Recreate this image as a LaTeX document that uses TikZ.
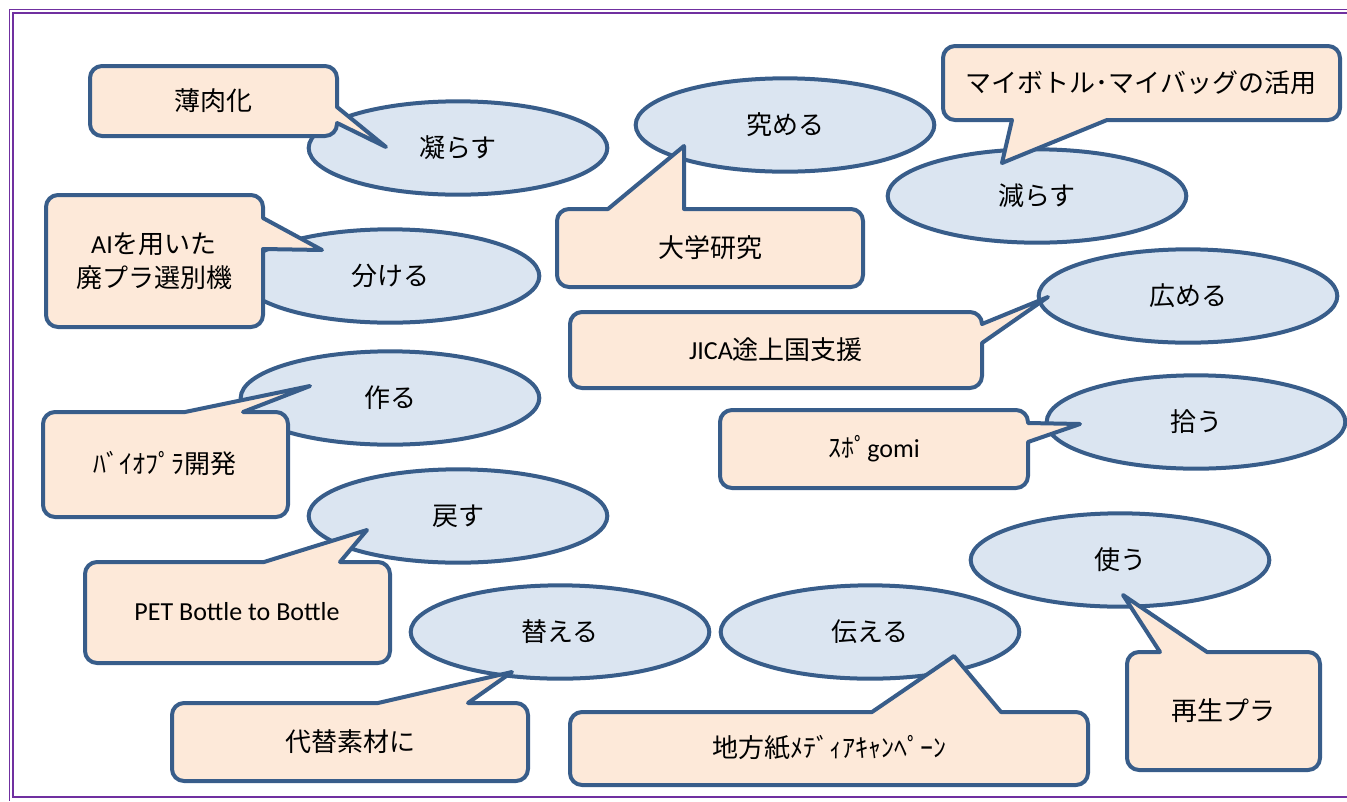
\documentclass[tikz,border=0pt]{standalone}
\usepackage{fontspec}
\setmainfont{Carlito}
\newfontfamily\jp{Noto Sans CJK JP}
\usetikzlibrary{shapes.geometric}
\definecolor{edge}{HTML}{385D8A}
\definecolor{bluefill}{HTML}{DBE5F1}
\definecolor{peach}{HTML}{FDE9D9}
\definecolor{framepurple}{HTML}{7030A0}
% tip, first base point, four corners, second base point
\newcommand{\callout}[7]{%
  \filldraw[notebox] #1 -- #2 [rounded corners=9pt] -- #3 -- #4 -- #5 -- #6 [sharp corners] -- #7 -- cycle;}
\begin{document}
\begin{tikzpicture}[x=0.75pt, y=-0.75pt,
    txt/.style={font=\fontsize{19.5pt}{25.5pt}\selectfont, align=center, inner sep=0pt},
    act/.style={ellipse, draw=edge, fill=bluefill, line width=3pt, minimum width=224pt, minimum height=70pt, inner sep=0pt, txt},
    notebox/.style={draw=edge, fill=peach, line width=3pt, line join=round},
    rim/.style={framepurple, line width=1pt}]
  \useasboundingbox[fill=white] (0,0) rectangle (1347,801);
  % double frame, open on the right
  \draw[rim] (1347,9.5) -- (9.5,9.5) -- (9.5,801);
  \draw[rim] (1347,13) -- (13,13) -- (13,797) -- (1347,797);
  % verbs
  \node[act] (korasu) at (458,148) {\jp 凝らす};
  \node[act] (kiwameru) at (785,125) {\jp 究める};
  \node[act] (herasu) at (1037,196) {\jp 減らす};
  \node[act] (wakeru) at (390,276) {\jp 分ける};
  \node[act] (hiromeru) at (1188,296) {\jp 広める};
  \node[act] (tsukuru) at (390,398) {\jp 作る};
  \node[act] (hirou) at (1196,422) {\jp 拾う};
  \node[act] (modosu) at (458,516) {\jp 戻す};
  \node[act] (kaeru) at (560,632) {\jp 替える};
  \node[act] (tsutaeru) at (870,632) {\jp 伝える};
  \node[act] (tsukau) at (1120,560) {\jp 使う};
  % callouts
  \callout{(386,147)}{(337,123)}{(337,136)}{(90,136)}{(90,66)}{(337,66)}{(337,107)}
  \node[txt] (usuniku) at (213,101) {\jp 薄肉化};
  \callout{(1002,163)}{(1107,120)}{(1340,120)}{(1340,46)}{(943,46)}{(943,120)}{(1012,120)}
  \node[txt] (mybottle) at (1141,83) {\jp マイボトル･マイバッグの活用};
  \callout{(322,250)}{(263,249)}{(263,327)}{(46,327)}{(46,195)}{(263,195)}{(263,218)}
  \node[txt] (ai) at (154,261) {AI{\jp を用いた}\\{\jp 廃プラ選別機}};
  \callout{(684,146)}{(608,209)}{(557,209)}{(557,287)}{(863,287)}{(863,209)}{(684,209)}
  \node[txt] (daigaku) at (710,248) {\jp 大学研究};
  \callout{(1048,297)}{(982,343)}{(982,388)}{(570,388)}{(570,312)}{(982,312)}{(982,324)}
  \node[txt] (jica) at (776,350) {JICA{\jp 途上国支援}};
  \callout{(310,386)}{(185,412)}{(43,412)}{(43,517)}{(288,517)}{(288,412)}{(243,412)}
  \node[txt] (bio) at (165,464) {\jp ﾊﾞｲｵﾌﾟﾗ開発};
  \callout{(1080,424)}{(1028,442)}{(1028,488)}{(720,488)}{(720,410)}{(1028,410)}{(1028,423)}
  \node[txt] (supogomi) at (874,449) {{\jp ｽﾎﾟ}gomi};
  \callout{(367,530)}{(264,562)}{(85,562)}{(85,663)}{(390,663)}{(390,562)}{(340,562)}
  \node[txt] (pet) at (237,612) {PET Bottle to Bottle};
  \callout{(512,672)}{(378,703)}{(172,703)}{(172,781)}{(528,781)}{(528,703)}{(468,703)}
  \node[txt] (daitai) at (350,742) {\jp 代替素材に};
  \callout{(954,656)}{(872,712)}{(570,712)}{(570,785)}{(1088,785)}{(1088,712)}{(1001,712)}
  \node[txt] (chiho) at (829,748) {\jp 地方紙ﾒﾃﾞｨｱｷｬﾝﾍﾟｰﾝ};
  \callout{(1123,595)}{(1160,652)}{(1127,652)}{(1127,770)}{(1320,770)}{(1320,652)}{(1207,652)}
  \node[txt] (saisei) at (1223,711) {\jp 再生プラ};
\end{tikzpicture}
\end{document}
